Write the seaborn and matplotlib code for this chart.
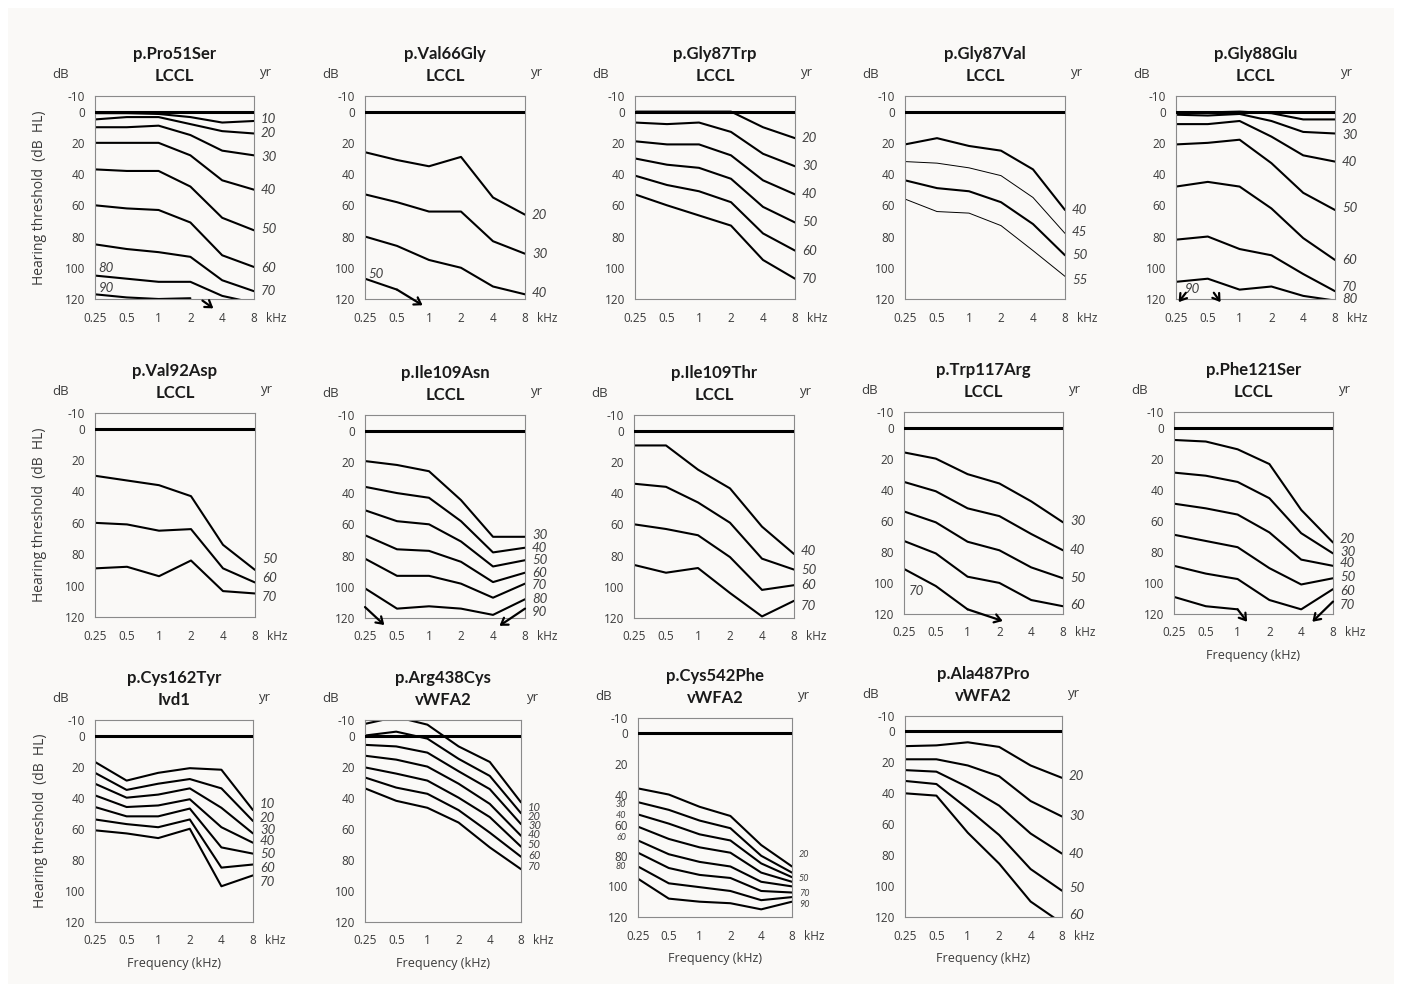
import numpy as np
import pandas as pd
import matplotlib
matplotlib.use('Agg')
import matplotlib.pyplot as plt
import seaborn as sns
from matplotlib.patches import Rectangle
from matplotlib.ticker import NullLocator

# частоты и подписи осей
freqs = [0.25, 0.5, 1, 2, 4, 8]
freq_labels = ['0.25', '0.5', '1', '2', '4', '8']
db_ticks = [-10, 0, 20, 40, 60, 80, 100, 120]

# пороги слуха (dB HL) по возрастам; None = за пределами графика
pro51ser = {10: [1, 1, 1.5, 3.5, 7, 6], 20: [5, 3.5, 3.5, 8, 12.5, 14],
            30: [10, 10, 9, 15, 25, 28], 40: [20, 20, 20, 28, 44, 50],
            50: [37, 38, 38, 48, 68, 76], 60: [60, 62, 63, 71, 92, 99.5],
            70: [85, 88, 90, 93, 108, 115], 80: [105, 107, 109, 109, 118, 122.5],
            90: [117, 119, 120, 119.5, None, None]}
val66gly = {20: [26, 31, 35, 29, 55, 66], 30: [53, 58, 64, 64, 83, 91],
            40: [80, 86, 95, 100, 112, 117], 50: [107, 114, None, None, None, None]}
gly87trp = {20: [0, 0, 0, 0, 10, 17], 30: [7, 8, 7, 13, 27, 35],
            40: [19, 21, 21, 28, 44, 53], 50: [30, 34, 36, 43, 61, 71],
            60: [41, 47, 51, 58, 78, 89], 70: [53, 60, 66.5, 73, 95, 107]}
gly87val = {40: [21, 17, 22, 25, 37, 63], 45: [32, 33, 36, 41, 55, 78],
            50: [44, 49, 51, 58, 72, 92], 55: [56, 64, 65, 73, 89, 105.5]}
gly88glu = {20: [0.5, 0.5, 0, 1, 5, 5], 30: [2, 2.5, 1.5, 6, 13, 14],
            40: [8, 8, 6, 16, 28, 32], 50: [21, 20, 18, 33, 52, 63],
            60: [48, 45, 48, 62, 81, 95], 70: [82, 80, 88, 92, 104, 115],
            80: [109, 107, 114, 112, 118, 121]}
val92asp = {50: [30, 33, 36, 43, 74, 90], 60: [60, 61, 65, 64, 89, 98],
            70: [89, 88, 94, 84, 103.5, 105]}
ile109asn = {30: [19.5, 22, 26, 44.5, 68, 68], 40: [36, 40, 43, 58, 78, 75],
             50: [51, 58, 60, 71, 87, 83], 60: [67, 76, 77, 84, 97, 91],
             70: [82, 93, 93, 98, 107, 98], 80: [101, 114, 112.5, 114, 118, 108]}
ile109thr = {40: [9.5, 9.5, 25, 37, 61.5, 79], 50: [34, 36, 46, 59, 82, 89],
             60: [60, 63, 67, 81, 102, 99], 70: [86, 91, 88, 104, 119, 109]}
trp117arg = {30: [16, 20, 30, 36, 47.5, 61], 40: [35, 41, 52, 57, 68.5, 79],
             50: [54, 61, 73.5, 79, 90, 97], 60: [73, 81, 96, 100, 111, 115],
             70: [91, 102, 117, None, None, None]}
phe121ser = {20: [8, 9, 14, 23.5, 53, 74], 30: [29, 31, 35, 45.5, 68, 81],
             40: [49, 52, 56, 67.5, 85, 89], 50: [69, 73, 77, 90.5, 101, 97],
             60: [89, 94, 97.5, 111, 117, 104], 70: [109, 115, 117, None, None, None]}
cys162tyr = {10: [17, 29, 24, 21, 22, 48], 20: [24, 35, 31, 28, 34, 55],
             30: [31, 40, 38, 34, 46.5, 63], 40: [38.5, 46, 45, 41, 59, 69],
             50: [46, 52, 52, 47, 72, 76], 60: [54, 57, 59, 54, 85, 83],
             70: [61, 63, 66, 60, 97, 90]}
arg438cys = {10: [-7.5, -12, -7, 7, 17, 43], 20: [0, -2.5, 2, 15, 26, 50],
             30: [6, 7, 11, 23, 34.5, 57], 40: [13, 15.5, 20, 31, 44, 64.5],
             50: [20.5, 24.5, 29, 40, 52.5, 71.5], 60: [27, 33.5, 37.5, 48, 62.5, 78],
             70: [34, 42, 46.5, 56, 72, 86]}
cys542phe = {20: [36, 40, 48, 54, 73, 87], 30: [45, 50, 57, 62, 80, 91],
             40: [53, 59, 66, 70, 85, 94], 50: [61, 69, 74.5, 78, 91, 97],
             60: [70, 79, 84, 87, 97, 100], 70: [78, 88, 92.5, 94.5, 103, 104],
             80: [87, 98, 100.5, 103, 109, 107], 90: [95, 108, 110, 111, 115, 110]}
ala487pro = {20: [9.5, 9, 7, 10, 22, 30], 30: [18, 18, 22, 29, 45, 55],
             40: [25, 26, 36, 48, 66, 79], 50: [32, 34, 50, 67, 89, 103],
             60: [40, 41.5, 65.5, 85.5, 110, 124]}

variants = ['p.Pro51Ser', 'p.Val66Gly', 'p.Gly87Trp', 'p.Gly87Val', 'p.Gly88Glu',
            'p.Val92Asp', 'p.Ile109Asn', 'p.Ile109Thr', 'p.Trp117Arg', 'p.Phe121Ser',
            'p.Cys162Tyr', 'p.Arg438Cys', 'p.Cys542Phe', 'p.Ala487Pro']
domains = ['LCCL'] * 10 + ['Ivd1', 'vWFA2', 'vWFA2', 'vWFA2']
curves = [pro51ser, val66gly, gly87trp, gly87val, gly88glu, val92asp, ile109asn,
          ile109thr, trp117arg, phe121ser, cys162tyr, arg438cys, cys542phe, ala487pro]
thin_ages = {'p.Gly87Val': [45, 55]}

# --- раскладка (пиксели: left, top(-10 dB), right, bottom(120 dB)) ---
rects = [(95, 96, 254, 299), (365, 96, 525, 299), (635, 96, 795, 299),
         (905, 96, 1065, 299), (1176, 96, 1335, 299),
         (95, 413, 255, 617), (365, 415, 525, 618), (634, 415, 794, 618),
         (904, 412, 1063, 614), (1174, 412, 1333, 614),
         (95, 720, 253, 922), (365, 720, 521, 922), (638, 718, 792, 917),
         (905, 716, 1062, 917)]

# подписи возраста: ('r'|'l'|частота, y, текст)
tags = [
    [('r', 5, '10'), ('r', 14, '20'), ('r', 29, '30'), ('r', 50, '40'), ('r', 75, '50'),
     ('r', 100, '60'), ('r', 115, '70'), (0.27, 100, '80'), (0.27, 113, '90')],
    [('r', 66, '20'), ('r', 91, '30'), ('r', 116, '40'), (0.27, 104, '50')],
    [('r', 17, '20'), ('r', 35, '30'), ('r', 53, '40'), ('r', 71, '50'), ('r', 89, '60'),
     ('r', 107, '70')],
    [('r', 63, '40'), ('r', 77, '45'), ('r', 92, '50'), ('r', 108, '55')],
    [('r', 5, '20'), ('r', 15, '30'), ('r', 32, '40'), ('r', 62, '50'), ('r', 95, '60'),
     ('r', 112, '70'), ('r', 120, '80'), (0.3, 113.5, '90')],
    [('r', 83, '50'), ('r', 95, '60'), ('r', 107, '70')],
    [('r', 67, '30'), ('r', 75, '40'), ('r', 83, '50'), ('r', 91, '60'), ('r', 99, '70'),
     ('r', 108, '80'), ('r', 116, '90')],
    [('r', 77, '40'), ('r', 89, '50'), ('r', 99, '60'), ('r', 112, '70')],
    [('r', 60, '30'), ('r', 79, '40'), ('r', 97, '50'), ('r', 114, '60'), (0.28, 105.5, '70')],
    [('r', 72, '20'), ('r', 80, '30'), ('r', 87, '40'), ('r', 96, '50'), ('r', 105, '60'),
     ('r', 114, '70')],
    [('r', 44, '10'), ('r', 53, '20'), ('r', 61, '30'), ('r', 68, '40'), ('r', 76, '50'),
     ('r', 85, '60'), ('r', 94, '70')],
    [('r', 46, '10'), ('r', 52, '20'), ('r', 58, '30'), ('r', 64, '40'), ('r', 70, '50'),
     ('r', 77, '60'), ('r', 84, '70')],
    [('r', 79, '20'), ('r', 95, '50'), ('r', 104.5, '70'), ('r', 112, '90'),
     ('l', 46.5, '30'), ('l', 53.5, '40'), ('l', 68, '60'), ('l', 87, '80')],
    [('r', 29, '20'), ('r', 55, '30'), ('r', 79, '40'), ('r', 101, '50'), ('r', 119, '60')],
]
tag_size = [9.5] * 11 + [8, 6.5, 9.5]

# стрелки "ниже 120 dB": (x0, y0, x1, y1)
arrows = {0: [(2.6, 121, 3.3, 126)],
          1: [(0.5, 114, 0.87, 124)],
          4: [(0.31, 116, 0.265, 122), (0.57, 116, 0.66, 122)],
          6: [(0.25, 113, 0.38, 124.5), (8, 114, 4.6, 125)],
          8: [(1, 117, 2.15, 124.5)],
          9: [(1, 117, 1.23, 125), (8, 112, 5.1, 125)]}

sns.set_style('white')
plt.rcParams['font.family'] = ['Open Sans', 'DejaVu Sans']
plt.rcParams['axes.unicode_minus'] = False

W, H = 1402, 992
fig = plt.figure(figsize=(W / 100, H / 100), dpi=100)
fig.patch.set_facecolor('white')
fig.patches.append(Rectangle((8 / W, 8 / H), 1 - 16 / W, 1 - 16 / H, transform=fig.transFigure,
                             facecolor='#faf9f7', edgecolor='none', zorder=-5))

text_col = '#3a3a3a'
for i, name in enumerate(variants):
    l, t, r, b = rects[i]
    ax = fig.add_axes([l / W, 1 - b / H, (r - l) / W, (b - t) / H])
    ax.set_facecolor('none')
    ax.set_xscale('log', base=2)

    ax.axhline(0, color='black', lw=2.2, zorder=3)
    for age, vals in curves[i].items():
        pts = [(f, v) for f, v in zip(freqs, vals) if v is not None]
        df = pd.DataFrame(pts, columns=['freq', 'db'])
        lw = 0.7 if age in thin_ages.get(name, []) else 1.5
        sns.lineplot(data=df, x='freq', y='db', ax=ax, color='black', lw=lw,
                     sort=False, estimator=None, legend=False)

    ax.set_xlim(0.25, 8)
    ax.set_ylim(120, -10)
    ax.set_xticks(freqs)
    ax.set_xticklabels(freq_labels)
    ax.xaxis.set_minor_locator(NullLocator())
    ax.set_yticks(db_ticks)
    ax.tick_params(axis='both', direction='out', length=4, width=0.8, color='#808080',
                   labelsize=8.5, labelcolor=text_col, pad=3)
    ax.tick_params(axis='x', pad=5)
    for sp in ax.spines.values():
        sp.set_visible(True)
        sp.set_color('#8a8a8a')
        sp.set_linewidth(0.8)
    ax.set_xlabel('')
    ax.set_ylabel('')

    # заголовки
    ax.annotate(name, xy=(0.5, 1), xycoords='axes fraction', xytext=(0, 42),
                textcoords='offset pixels', ha='center', va='center',
                fontsize=12, fontweight='bold', family='Lato', color='#1a1a1a')
    ax.annotate(domains[i], xy=(0.5, 1), xycoords='axes fraction', xytext=(0, 20),
                textcoords='offset pixels', ha='center', va='center',
                fontsize=12, fontweight='bold', family='Lato', color='#1a1a1a')
    ax.annotate('dB', xy=(0, 1), xycoords='axes fraction', xytext=(-34, 21),
                textcoords='offset pixels', ha='center', va='center', fontsize=9.5, color=text_col)
    ax.annotate('yr', xy=(1, 1), xycoords='axes fraction', xytext=(12, 23),
                textcoords='offset pixels', ha='center', va='center', fontsize=9.5, color=text_col)
    ax.annotate('kHz', xy=(1, 0), xycoords='axes fraction', xytext=(22, -19),
                textcoords='offset pixels', ha='center', va='center', fontsize=8.5, color=text_col)

    for where, y, txt in tags[i]:
        kw = dict(ha='left', va='center', fontsize=tag_size[i], style='italic',
                  family='Lato', color='#404040', annotation_clip=False)
        if where == 'r':
            ax.annotate(txt, xy=(1, y), xycoords=('axes fraction', 'data'), xytext=(7, 0),
                        textcoords='offset pixels', **kw)
        elif where == 'l':
            kw['ha'] = 'right'
            ax.annotate(txt, xy=(0, y), xycoords=('axes fraction', 'data'), xytext=(-12, 0),
                        textcoords='offset pixels', **kw)
        else:
            ax.annotate(txt, xy=(where, y), xycoords='data', **kw)

    for x0, y0, x1, y1 in arrows.get(i, []):
        ax.annotate('', xy=(x1, y1), xytext=(x0, y0), annotation_clip=False,
                    arrowprops=dict(arrowstyle='->,head_length=0.45,head_width=0.3',
                                    color='black', lw=1.6, shrinkA=0, shrinkB=0))

    if i in (0, 5, 10):
        ax.set_ylabel('Hearing threshold  (dB  HL)', fontsize=10, color=text_col)
        ax.yaxis.set_label_coords(-0.30, 0.5)
    if i >= 9:
        ax.set_xlabel('Frequency (kHz)', fontsize=9, color=text_col)
        ax.xaxis.set_label_coords(0.5, -0.175)

fig.savefig('out.png', dpi=100, facecolor=fig.get_facecolor())
